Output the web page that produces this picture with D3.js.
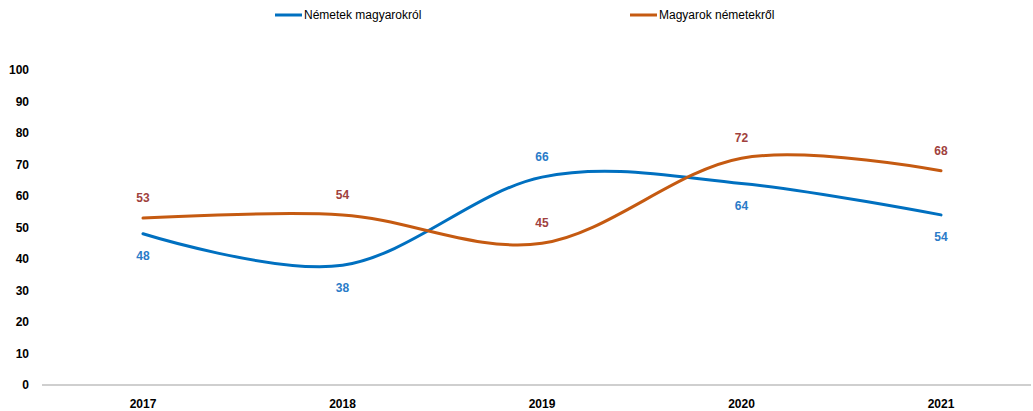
<!DOCTYPE html>
<html><head><meta charset="utf-8">
<script src="https://cdn.jsdelivr.net/npm/d3@7/dist/d3.min.js"></script>
<style>body{margin:0;background:#fff}svg{display:block;font-family:"Liberation Sans",Arial,sans-serif}</style>
</head><body><svg id="c" width="1033" height="411"></svg>
<script>
const years = ["2017","2018","2019","2020","2021"];
const nemetek = [48,38,66,64,54];
const magyarok = [53,54,45,72,68];
const yTicks = [0,10,20,30,40,50,60,70,80,90,100];
const seriesNames = ["Németek magyarokról","Magyarok németekről"];
const nemetekLabelPos = ["below","below","above","below","below"];
const magyarokLabelPos = ["above","above","above","above","above"];

const svg = d3.select("#c");
const x = d3.scalePoint().domain(years).range([143,941]);
const y = d3.scaleLinear().domain([0,100]).range([385,70]);

// x axis line
svg.append("line").attr("x1",42).attr("x2",1031).attr("y1",y(0)).attr("y2",y(0))
  .attr("stroke","#BFBFBF").attr("stroke-width",1.5);

// y tick labels
svg.append("g").selectAll("text").data(yTicks).join("text")
  .attr("x",29).attr("y",d=>y(d)).attr("dy","0.35em").attr("text-anchor","end")
  .attr("font-size",12).attr("font-weight","bold").attr("fill","#000").text(d=>d);

// x tick labels
svg.append("g").selectAll("text").data(years).join("text")
  .attr("x",d=>x(d)).attr("y",404).attr("dy","0.35em").attr("text-anchor","middle")
  .attr("font-size",12).attr("font-weight","bold").attr("fill","#000").text(d=>d);

const line = d3.line().x((d,i)=>x(years[i])).y(d=>y(d)).curve(d3.curveCardinal.tension(0));

const series = [
  {vals:nemetek, color:"#0070C0", lab:"#2A7BC8", pos:nemetekLabelPos},
  {vals:magyarok, color:"#C55A11", lab:"#A0413D", pos:magyarokLabelPos}
];
series.forEach(s=>{
  svg.append("path").datum(s.vals).attr("d",line).attr("fill","none")
    .attr("stroke",s.color).attr("stroke-width",3).attr("stroke-linecap","round");
});
series.forEach(s=>{
  svg.append("g").selectAll("text").data(s.vals).join("text")
    .attr("x",(d,i)=>x(years[i])).attr("y",(d,i)=>y(d)+(s.pos[i]==="above"?-20:22))
    .attr("dy","0.35em").attr("text-anchor","middle")
    .attr("font-size",12).attr("font-weight","bold").attr("fill",s.lab).text(d=>d);
});

// legend
const leg = [{x:275,color:"#0070C0",name:seriesNames[0]},{x:630,color:"#C55A11",name:seriesNames[1]}];
leg.forEach(l=>{
  svg.append("line").attr("x1",l.x).attr("x2",l.x+27).attr("y1",15).attr("y2",15)
    .attr("stroke",l.color).attr("stroke-width",3);
  svg.append("text").attr("x",l.x+29).attr("y",15).attr("dy","0.35em")
    .attr("font-size",12).attr("fill","#000").text(l.name);
});
</script></body></html>
